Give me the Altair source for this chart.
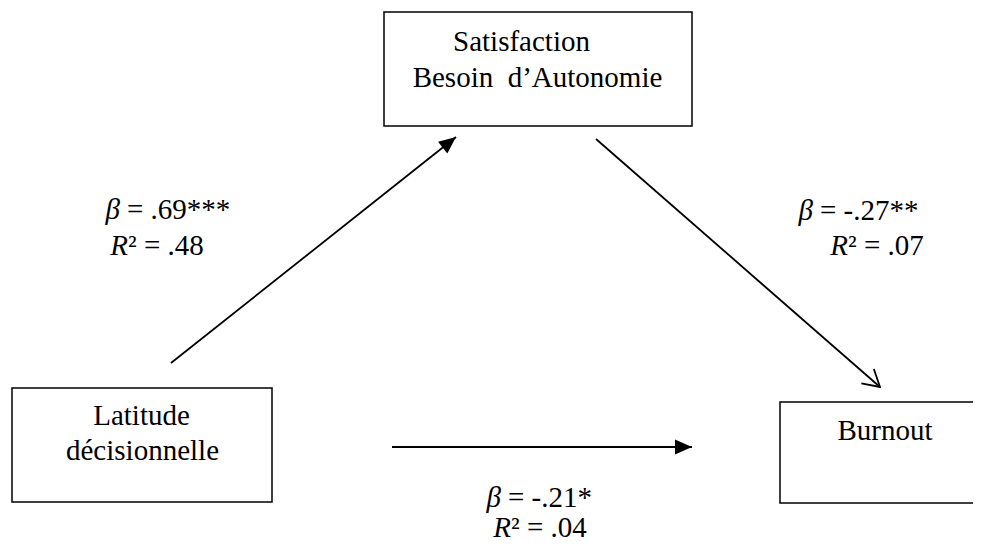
import altair as alt
import numpy as np
import pandas as pd

# ---- data (image pixel coordinates of the diagram elements) ----
box_name = ["Satisfaction", "Latitude", "Burnout"]
box_x1 = [384, 12, 780]
box_x2 = [692, 272, 995]
box_y1 = [12, 388, 402]
box_y2 = [126, 502, 503]

node_text = ["Satisfaction", "Besoin\u00a0\u00a0d\u2019Autonomie", "Latitude", "décisionnelle", "Burnout"]
node_x = [521.5, 537.5, 141.5, 142.5, 885]
node_y = [51, 87, 425, 460, 440]

arrow_x1 = [171, 596, 392]
arrow_y1 = [363, 139, 447]
arrow_x2 = [456, 880, 692]
arrow_y2 = [137, 387, 447]
arrow_head = ["filled", "open", "filled"]

stat_italic = ["β", "R", "β", "R", "β", "R"]
stat_rest = ["= .69***", "² = .48", "= -.27**", "² = .07", "= -.21*", "² = .04"]
stat_it_end = [120, 128, 813, 848, 501, 511]
stat_rest_x = [127, 128, 820, 848, 508, 511]
stat_y = [219, 255, 220, 255, 507, 537]

W, H = 965, 536
FONT = "Liberation Serif"
FS = 29

xs = alt.Scale(domain=[8, 8 + W], nice=False, zero=False)
ys = alt.Scale(domain=[8, 8 + H], nice=False, zero=False, reverse=True)

boxes = pd.DataFrame({"name": box_name, "x1": box_x1, "x2": box_x2, "y1": box_y1, "y2": box_y2})
nodes = pd.DataFrame({"t": node_text, "x": node_x, "y": node_y})
arrows = pd.DataFrame({"x1": arrow_x1, "y1": arrow_y1, "x2": arrow_x2, "y2": arrow_y2, "head": arrow_head})
arrows["angle"] = np.degrees(np.arctan2(arrows["x2"] - arrows["x1"], -(arrows["y2"] - arrows["y1"]))) % 360
stats = pd.DataFrame({"it": stat_italic, "rest": stat_rest, "xi": stat_it_end, "xr": stat_rest_x, "y": stat_y})

rects = alt.Chart(boxes).mark_rect(fill="white", fillOpacity=0, stroke="black", strokeWidth=1.5, clip=True).encode(
    x=alt.X("x1:Q", scale=xs, axis=None), x2="x2:Q",
    y=alt.Y("y1:Q", scale=ys, axis=None), y2="y2:Q",
)

lines = alt.Chart(arrows).mark_rule(color="black", strokeWidth=1.8).encode(
    x=alt.X("x1:Q", scale=xs, axis=None), x2="x2:Q",
    y=alt.Y("y1:Q", scale=ys, axis=None), y2="y2:Q",
)

heads_filled = alt.Chart(arrows).transform_filter(alt.datum.head == "filled").mark_point(
    shape="M0,0 L0.88,2 L-0.88,2 Z", filled=True, color="black", size=289, opacity=1, strokeWidth=0
).encode(
    x=alt.X("x2:Q", scale=xs, axis=None), y=alt.Y("y2:Q", scale=ys, axis=None),
    angle=alt.Angle("angle:Q", scale=None),
)

heads_open = alt.Chart(arrows).transform_filter(alt.datum.head == "open").mark_point(
    shape="M-1,1.73 L0,0 L1,1.73", filled=False, color="black", size=361, opacity=1, strokeWidth=1.8
).encode(
    x=alt.X("x2:Q", scale=xs, axis=None), y=alt.Y("y2:Q", scale=ys, axis=None),
    angle=alt.Angle("angle:Q", scale=None),
)

node_labels = alt.Chart(nodes).mark_text(
    font=FONT, fontSize=FS, color="black", align="center", baseline="alphabetic"
).encode(
    x=alt.X("x:Q", scale=xs, axis=None), y=alt.Y("y:Q", scale=ys, axis=None), text="t:N"
)

stat_it = alt.Chart(stats).mark_text(
    font=FONT, fontSize=FS, fontStyle="italic", color="black", align="right", baseline="alphabetic"
).encode(
    x=alt.X("xi:Q", scale=xs, axis=None), y=alt.Y("y:Q", scale=ys, axis=None), text="it:N"
)

stat_norm = alt.Chart(stats).mark_text(
    font=FONT, fontSize=FS, color="black", align="left", baseline="alphabetic"
).encode(
    x=alt.X("xr:Q", scale=xs, axis=None), y=alt.Y("y:Q", scale=ys, axis=None), text="rest:N"
)

chart = alt.layer(rects, lines, heads_filled, heads_open, node_labels, stat_it, stat_norm).properties(
    width=W, height=H, padding=0, autosize=alt.AutoSizeParams(type="none")
).configure_view(strokeWidth=0, stroke="transparent")

chart.save("out.html", embed_options={"renderer": "svg", "actions": False})
